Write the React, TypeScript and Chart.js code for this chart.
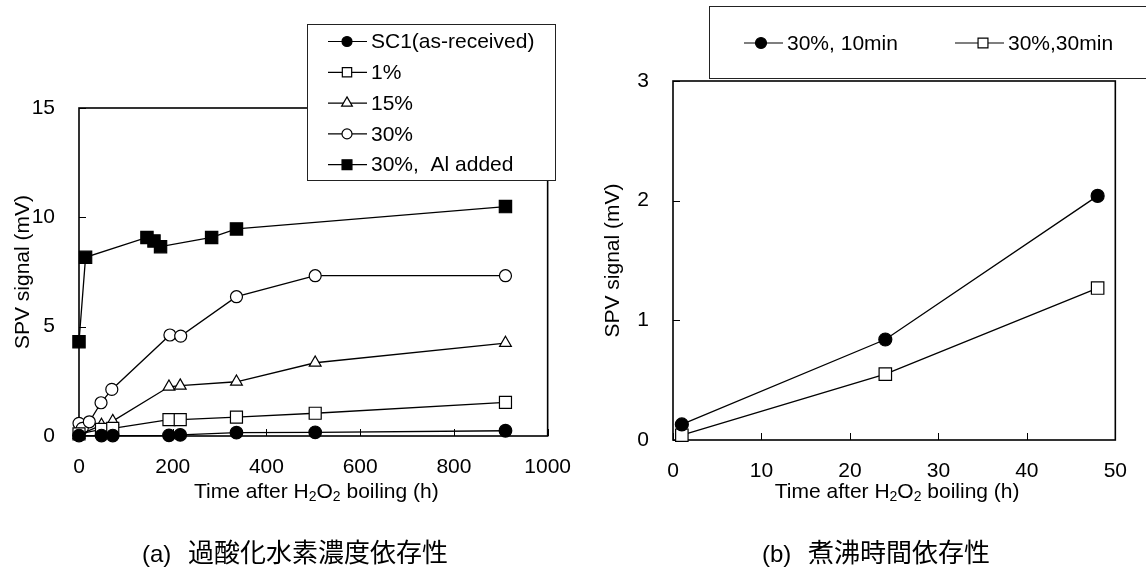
import React, { useEffect, useRef } from "react";
import { Chart, registerables } from "chart.js";

Chart.register(...registerables);

const FONT = "'Liberation Sans', Arimo, Arial, Helvetica, sans-serif";
const CJK_FONT = "'Liberation Sans', 'Noto Sans CJK JP', sans-serif";

// ---------- (a) H2O2 concentration dependence ----------
const aXTicks = [0, 200, 400, 600, 800, 1000];
const aYTicks = [0, 5, 10, 15];

const sc1X = [0, 48, 72, 192, 216, 336, 504, 910];
const sc1Y = [0.02, 0.02, 0.02, 0.03, 0.05, 0.15, 0.17, 0.24];

const pct1X = [0, 48, 72, 192, 216, 336, 504, 910];
const pct1Y = [0.1, 0.3, 0.35, 0.75, 0.75, 0.86, 1.04, 1.54];

const pct15X = [0, 48, 72, 192, 216, 336, 504, 910];
const pct15Y = [0.05, 0.5, 0.68, 2.25, 2.3, 2.48, 3.35, 4.25];

const pct30X = [0, 7, 22, 47, 70, 194, 217, 336, 504, 910];
const pct30Y = [0.58, 0.35, 0.65, 1.52, 2.13, 4.62, 4.57, 6.37, 7.33, 7.33];

const alX = [0, 14, 145, 160, 174, 283, 336, 910];
const alY = [4.31, 8.17, 9.08, 8.92, 8.66, 9.08, 9.47, 10.49];

const aLabels = ["SC1(as-received)", "1%", "15%", "30%", "30%,  Al added"];

// ---------- (b) boiling time dependence ----------
const bXTicks = [0, 10, 20, 30, 40, 50];
const bYTicks = [0, 1, 2, 3];

const min10X = [1, 24, 48];
const min10Y = [0.13, 0.84, 2.04];

const min30X = [1, 24, 48];
const min30Y = [0.04, 0.55, 1.27];

const bLabels = ["30%, 10min", "30%,30min"];

// ---------- texts ----------
const yTitle = "SPV signal (mV)";
const xTitleParts = [
  { t: "Time after H", sub: false },
  { t: "2", sub: true },
  { t: "O", sub: false },
  { t: "2", sub: true },
  { t: " boiling (h)", sub: false },
];
const captionA = ["(a)", "過酸化水素濃度依存性"];
const captionB = ["(b)", "煮沸時間依存性"];

type Style = "circle" | "rect" | "triangle";

function drawMarker(
  ctx: CanvasRenderingContext2D,
  style: Style,
  x: number,
  y: number,
  r: number,
  fill: string
) {
  ctx.beginPath();
  if (style === "circle") {
    ctx.arc(x, y, r, 0, Math.PI * 2);
  } else if (style === "rect") {
    const s = r * Math.SQRT1_2;
    ctx.rect(x - s, y - s, 2 * s, 2 * s);
  } else {
    let rad = 0;
    ctx.moveTo(x + Math.sin(rad) * r, y - Math.cos(rad) * r);
    rad += (2 * Math.PI) / 3;
    ctx.lineTo(x + Math.sin(rad) * r, y - Math.cos(rad) * r);
    rad += (2 * Math.PI) / 3;
    ctx.lineTo(x + Math.sin(rad) * r, y - Math.cos(rad) * r);
    ctx.closePath();
  }
  ctx.fillStyle = fill;
  ctx.fill();
  ctx.lineWidth = 1.2;
  ctx.strokeStyle = "#000";
  ctx.stroke();
}

function drawXTitle(ctx: CanvasRenderingContext2D, cx: number, cy: number) {
  const main = `21px ${FONT}`;
  const sub = `14px ${FONT}`;
  let total = 0;
  const widths = xTitleParts.map((p) => {
    ctx.font = p.sub ? sub : main;
    const w = ctx.measureText(p.t).width;
    total += w;
    return w;
  });
  let x = cx - total / 2;
  ctx.fillStyle = "#000";
  ctx.textAlign = "left";
  ctx.textBaseline = "middle";
  xTitleParts.forEach((p, i) => {
    ctx.font = p.sub ? sub : main;
    ctx.fillText(p.t, x, p.sub ? cy + 5 : cy);
    x += widths[i];
  });
}

function drawCaption(
  ctx: CanvasRenderingContext2D,
  parts: string[],
  left: number,
  cy: number
) {
  const f1 = `24px ${FONT}`;
  const f2 = `26px ${CJK_FONT}`;
  ctx.fillStyle = "#000";
  ctx.textAlign = "left";
  ctx.textBaseline = "middle";
  ctx.font = f1;
  ctx.fillText(parts[0], left, cy);
  ctx.font = f2;
  ctx.fillText(parts[1], left + 46, cy);
}

function framePlugin(xTicks: number[], yTicks: number[]) {
  return {
    id: "frameTicks",
    beforeDatasetsDraw(chart: any) {
      const { ctx, chartArea: a, scales } = chart;
      ctx.save();
      ctx.strokeStyle = "#000";
      ctx.lineWidth = 1.6;
      ctx.strokeRect(a.left, a.top, a.right - a.left, a.bottom - a.top);
      ctx.lineWidth = 1;
      ctx.beginPath();
      for (const v of yTicks) {
        const y = Math.round(scales.y.getPixelForValue(v)) + 0.5;
        ctx.moveTo(a.left, y);
        ctx.lineTo(a.left + 7, y);
      }
      for (const v of xTicks) {
        const x = Math.round(scales.x.getPixelForValue(v)) + 0.5;
        ctx.moveTo(x, a.bottom);
        ctx.lineTo(x, a.bottom - 7);
      }
      ctx.stroke();
      ctx.restore();
    },
  };
}

function series(
  label: string,
  xs: number[],
  ys: number[],
  style: Style,
  fill: string,
  r: number
) {
  return {
    label,
    data: xs.map((x, i) => ({ x, y: ys[i] })),
    borderColor: "#000",
    borderWidth: 1.3,
    backgroundColor: fill,
    pointStyle: style,
    pointRadius: r,
    pointBorderWidth: 1.2,
    pointBackgroundColor: fill,
    pointBorderColor: "#000",
    tension: 0,
    fill: false,
    clip: false,
  };
}

function scaleOpts(
  min: number,
  max: number,
  ticks: number[],
  fit: (s: any) => void,
  padding: number,
  title?: string
) {
  return {
    type: "linear",
    min,
    max,
    afterBuildTicks: (s: any) => {
      s.ticks = ticks.map((v) => ({ value: v }));
    },
    afterFit: fit,
    grid: { display: false, drawTicks: false },
    border: { display: false },
    ticks: {
      font: { family: FONT, size: 21 },
      color: "#000",
      padding,
      maxRotation: 0,
      autoSkip: false,
      callback: (v: any) => String(v),
    },
    title: title
      ? {
          display: true,
          text: title,
          color: "#000",
          font: { family: FONT, size: 21 },
          padding: { top: 11, bottom: 0 },
        }
      : { display: false },
  };
}

const aStyles: [Style, string, number, number][] = [
  // style, fill, point radius, legend radius
  ["circle", "#000", 6.3, 5],
  ["rect", "#fff", 8.5, 6.6],
  ["triangle", "#fff", 6.8, 6.2],
  ["circle", "#fff", 6, 5],
  ["rect", "#000", 8.7, 7],
];

function configA(): any {
  const xs = [sc1X, pct1X, pct15X, pct30X, alX];
  const ys = [sc1Y, pct1Y, pct15Y, pct30Y, alY];
  const datasets = aLabels.map((l, i) =>
    series(l, xs[i], ys[i], aStyles[i][0], aStyles[i][1], aStyles[i][2])
  );
  return {
    type: "line",
    data: { datasets },
    options: {
      animation: false,
      responsive: false,
      layout: { padding: { left: 0, top: 108, right: 36, bottom: 0 } },
      plugins: { legend: { display: false }, tooltip: { enabled: false } },
      scales: {
        x: scaleOpts(0, 1000, aXTicks, (s) => { s.height = 143; }, 19),
        y: scaleOpts(0, 15, aYTicks, (s) => { s.width = 79; }, 24, yTitle),
      },
    },
    plugins: [
      framePlugin(aXTicks, aYTicks),
      {
        id: "decorA",
        afterDraw(chart: any) {
          const { ctx, chartArea: a } = chart;
          ctx.save();
          // legend box
          ctx.fillStyle = "#fff";
          ctx.fillRect(307, 24, 249, 157);
          ctx.strokeStyle = "#222";
          ctx.lineWidth = 1;
          ctx.strokeRect(307.5, 24.5, 248, 156);
          aLabels.forEach((lab, i) => {
            const y = 41.5 + i * 30.8;
            ctx.strokeStyle = "#000";
            ctx.lineWidth = 1.2;
            ctx.beginPath();
            ctx.moveTo(328, y);
            ctx.lineTo(367, y);
            ctx.stroke();
            drawMarker(ctx, aStyles[i][0], 347, y, aStyles[i][3], aStyles[i][1]);
            ctx.fillStyle = "#000";
            ctx.font = `21px ${FONT}`;
            ctx.textAlign = "left";
            ctx.textBaseline = "middle";
            ctx.fillText(lab, 371, y + 1);
          });
          drawXTitle(ctx, (a.left + a.right) / 2 + 3, 492);
          drawCaption(ctx, captionA, 142, 555);
          ctx.restore();
        },
      },
    ],
  };
}

const bStyles: [Style, string, number, number][] = [
  ["circle", "#000", 6.5, 5.5],
  ["rect", "#fff", 8.8, 7],
];

function configB(): any {
  const xs = [min10X, min30X];
  const ys = [min10Y, min30Y];
  const datasets = bLabels.map((l, i) =>
    series(l, xs[i], ys[i], bStyles[i][0], bStyles[i][1], bStyles[i][2])
  );
  const OFF = 590;
  return {
    type: "line",
    data: { datasets },
    options: {
      animation: false,
      responsive: false,
      layout: { padding: { left: 0, top: 81, right: 16, bottom: 0 } },
      plugins: { legend: { display: false }, tooltip: { enabled: false } },
      scales: {
        x: scaleOpts(0, 50, bXTicks, (s) => { s.height = 139; }, 19),
        y: scaleOpts(0, 3, bYTicks, (s) => { s.width = 83; }, 24, yTitle),
      },
    },
    plugins: [
      framePlugin(bXTicks, bYTicks),
      {
        id: "decorB",
        afterDraw(chart: any) {
          const { ctx, chartArea: a } = chart;
          ctx.save();
          ctx.fillStyle = "#fff";
          ctx.fillRect(709 - OFF, 6, 460, 72);
          ctx.strokeStyle = "#222";
          ctx.lineWidth = 1;
          ctx.strokeRect(709.5 - OFF, 6.5, 460, 72);
          const segs = [
            [744, 783, 761, 787],
            [955, 1004, 983, 1008],
          ];
          bLabels.forEach((lab, i) => {
            const y = 43;
            const [s0, s1, m, t] = segs[i];
            ctx.strokeStyle = "#000";
            ctx.lineWidth = 1.2;
            ctx.beginPath();
            ctx.moveTo(s0 - OFF, y);
            ctx.lineTo(s1 - OFF, y);
            ctx.stroke();
            drawMarker(ctx, bStyles[i][0], m - OFF, y, bStyles[i][3], bStyles[i][1]);
            ctx.fillStyle = "#000";
            ctx.font = `21px ${FONT}`;
            ctx.textAlign = "left";
            ctx.textBaseline = "middle";
            ctx.fillText(lab, t - OFF, y + 1);
          });
          drawXTitle(ctx, (a.left + a.right) / 2 + 3, 492);
          drawCaption(ctx, captionB, 762 - OFF, 555);
          ctx.restore();
        },
      },
    ],
  };
}

export default function App() {
  const refA = useRef<HTMLCanvasElement>(null);
  const refB = useRef<HTMLCanvasElement>(null);
  useEffect(() => {
    const ca = new Chart(refA.current as HTMLCanvasElement, configA());
    const cb = new Chart(refB.current as HTMLCanvasElement, configB());
    return () => {
      ca.destroy();
      cb.destroy();
    };
  }, []);
  return (
    <div
      style={{
        position: "absolute",
        left: 0,
        top: 0,
        width: 1146,
        height: 579,
        background: "#fff",
        overflow: "hidden",
      }}
    >
      <canvas
        ref={refA}
        width={590}
        height={579}
        style={{ position: "absolute", left: 0, top: 0 }}
      />
      <canvas
        ref={refB}
        width={556}
        height={579}
        style={{ position: "absolute", left: 590, top: 0 }}
      />
    </div>
  );
}
